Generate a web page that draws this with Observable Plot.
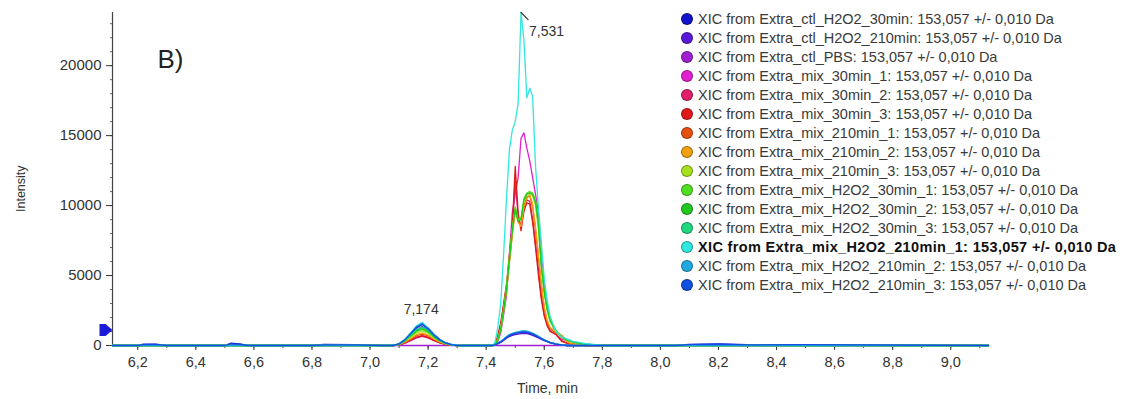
<!DOCTYPE html>
<html><head><meta charset="utf-8">
<script src="https://cdn.jsdelivr.net/npm/d3@7"></script>
<script src="https://cdn.jsdelivr.net/npm/@observablehq/plot@0.6"></script>
<style>
body{margin:0;background:#fff;}
#wrap{position:relative;width:1124px;height:399px;font-family:"Liberation Sans",Arial,sans-serif;}
#legend{position:absolute;left:681px;top:9px;}
.row{height:19.05px;display:flex;align-items:center;font-size:14.5px;color:#3a3a3a;white-space:nowrap;}
.row.bold{font-weight:bold;color:#111;letter-spacing:0.35px;}
.dot{width:12px;height:12px;border-radius:50%;margin-right:5px;box-sizing:border-box;border:1px solid rgba(0,0,0,0.35);}
</style></head><body><div id="wrap"><div id="legend"></div></div>
<script>
// ---------- data ----------
const seriesNames = [
  "Extra_ctl_H2O2_30min", "Extra_ctl_H2O2_210min", "Extra_ctl_PBS",
  "Extra_mix_30min_1", "Extra_mix_30min_2", "Extra_mix_30min_3",
  "Extra_mix_210min_1", "Extra_mix_210min_2", "Extra_mix_210min_3",
  "Extra_mix_H2O2_30min_1", "Extra_mix_H2O2_30min_2", "Extra_mix_H2O2_30min_3",
  "Extra_mix_H2O2_210min_1", "Extra_mix_H2O2_210min_2", "Extra_mix_H2O2_210min_3"
];
const seriesColors = [
  "#1212cc", "#5a18d8", "#a020d0",
  "#e020d0", "#e0206a", "#e01818",
  "#e85010", "#f0a010", "#a8e020",
  "#50e020", "#20c820", "#20d880",
  "#30e8e0", "#20a8e0", "#1050e0"
];
const boldSeries = "Extra_mix_H2O2_210min_1";
const massLabel = "153,057 +/- 0,010 Da";

const edgeTimes = [6.113, 9.13];
const peak1Times = [7.04, 7.06, 7.08, 7.10, 7.12, 7.14, 7.16, 7.18, 7.20, 7.22, 7.24, 7.26, 7.28, 7.30, 7.32];
const peak2Times = [7.40, 7.42, 7.43, 7.44, 7.45, 7.46, 7.47, 7.48, 7.49, 7.50, 7.51, 7.52, 7.53, 7.54,
                    7.55, 7.56, 7.57, 7.58, 7.59, 7.60, 7.61, 7.62, 7.64, 7.66, 7.68, 7.70, 7.74, 7.80];

const peak1Values = [
  [0,0,0,100,350,800,1250,1500,1250,800,450,200,80,0,0],
  [0,0,0,80,300,700,1100,1350,1100,700,380,180,60,0,0],
  [0,0,0,0,0,0,0,0,0,0,0,0,0,0,0],
  [0,0,0,50,150,350,550,650,550,350,200,80,20,0,0],
  [0,0,0,50,180,380,580,700,580,380,200,90,30,0,0],
  [0,0,0,60,200,400,600,680,560,360,190,80,20,0,0],
  [0,0,0,60,220,450,700,820,680,430,230,100,30,0,0],
  [0,0,0,70,250,500,780,900,750,470,250,110,30,0,0],
  [0,0,0,80,300,600,900,1050,880,560,300,130,40,0,0],
  [0,0,0,90,330,680,1000,1150,950,600,320,140,40,0,0],
  [0,0,0,90,350,700,1050,1200,1000,640,340,150,50,0,0],
  [0,0,0,100,380,760,1150,1300,1080,700,370,170,50,0,0],
  [0,0,0,150,450,900,1400,1650,1250,780,420,200,80,0,0],
  [0,0,0,120,420,880,1350,1580,1220,760,400,190,70,0,0],
  [0,0,0,110,400,850,1300,1520,1180,740,390,180,70,0,0]
];
const peak2Values = [
  [0,0,50,150,250,400,580,700,790,850,900,930,950,920,870,800,700,600,480,380,300,200,100,30,0,0,0,0],
  [0,0,40,120,220,360,520,640,720,780,820,850,870,850,800,730,640,540,440,350,270,190,90,30,0,0,0,0],
  [0,0,0,0,0,0,0,0,0,0,0,0,0,0,0,0,0,0,0,0,0,0,0,0,0,0,0,0],
  [0,0,0,300,900,2200,3600,6500,9500,10800,12000,14800,15200,14100,13200,12000,10800,9500,7000,4300,2900,1900,800,450,350,250,100,0],
  [0,0,80,600,1500,2800,4200,6200,8200,11800,9200,8500,9800,10400,10300,9000,7300,5400,3500,2200,1500,1050,800,350,150,100,0,0],
  [0,0,100,700,1600,3000,4400,6500,8500,12800,9500,8200,9600,10200,10100,8800,7000,5000,3300,2100,1400,1000,800,300,150,100,0,0],
  [0,0,60,500,1300,2600,4000,6000,8000,9800,8900,8600,10000,10600,10700,9900,8200,6300,4200,2600,1700,1200,900,700,200,100,0,0],
  [0,0,50,450,1200,2500,3900,5900,7900,9600,8800,8500,9900,10500,10800,10100,8500,6500,4400,2800,1800,1300,950,750,250,100,0,0],
  [0,0,50,400,1150,2500,4100,6200,8300,9800,9000,9000,10300,10800,10950,10700,10000,8300,5600,3700,2500,1700,1000,550,350,220,80,0],
  [0,0,40,400,1200,2600,4200,6300,8400,9900,9000,9100,10500,10900,11000,10900,10400,8900,5800,4000,2700,1900,1100,600,400,250,100,0],
  [0,0,40,380,1100,2400,4000,6100,8200,9700,8900,9000,10400,10800,10900,10800,10200,8600,5600,3800,2600,1800,1050,580,380,240,90,0],
  [0,0,50,160,280,430,620,750,840,900,960,1000,1040,1010,950,870,770,650,520,400,310,220,110,40,0,0,0,0],
  [0,0,200,1300,3000,6500,10500,14000,15400,16000,17300,23800,21800,17700,18400,17800,12800,9800,7200,4800,3200,2100,1000,600,450,300,150,0],
  [0,0,50,180,300,450,640,780,870,930,980,1020,1050,1020,960,880,780,660,530,410,320,230,120,50,0,0,0,0],
  [0,0,40,150,260,410,590,720,810,870,920,950,980,950,900,820,720,610,490,380,290,200,100,40,0,0,0,0]
];
// small baseline noise (series index -> times / values)
const noiseSeries = [0, 14];
const noiseTimes = [6.20, 6.22, 6.26, 6.30, 6.50, 6.52, 6.55, 6.58, 6.80, 6.84, 6.95, 8.05, 8.10, 8.20, 8.30, 8.48];
const noiseValues = [
  [0, 90, 100, 0, 0, 160, 120, 0, 0, 70, 60, 0, 80, 110, 60, 0],
  [0, 60, 80, 0, 0, 120, 90, 0, 0, 50, 50, 0, 60, 90, 40, 60]
];

const peakLabels = [
  {time: 7.176, intensity: 1670, label: "7,174"},
  {time: 7.52, intensity: 23800, label: "7,531"}
];
const markerLevel = [1100];
const xMajorTicks = [6.2, 6.4, 6.6, 6.8, 7.0, 7.2, 7.4, 7.6, 7.8, 8.0, 8.2, 8.4, 8.6, 8.8, 9.0];
const xMinorTicks = [6.2, 6.3, 6.4, 6.5, 6.6, 6.7, 6.8, 6.9, 7.0, 7.1, 7.2, 7.3, 7.4, 7.5, 7.6, 7.7, 7.8, 7.9, 8.0, 8.1, 8.2, 8.3, 8.4, 8.5, 8.6, 8.7, 8.8, 8.9, 9.0, 9.1];
const yMajorTicks = [0, 5000, 10000, 15000, 20000];
const yMinorTicks = d3.range(0, 24000, 1000);
const yDomain = [0, 23800];

// ---------- build table ----------
const data = [];
seriesNames.forEach((name, i) => {
  const pts = [];
  edgeTimes.forEach(t => pts.push({time: t, intensity: 0}));
  peak1Times.forEach((t, j) => pts.push({time: t, intensity: peak1Values[i][j]}));
  peak2Times.forEach((t, j) => pts.push({time: t, intensity: peak2Values[i][j]}));
  const k = noiseSeries.indexOf(i);
  if (k >= 0) noiseTimes.forEach((t, j) => pts.push({time: t, intensity: noiseValues[k][j]}));
  pts.sort((a, b) => a.time - b.time);
  pts.forEach(p => data.push({series: name, time: p.time, intensity: p.intensity}));
});

const font = '"Liberation Sans", Arial, sans-serif';
const comma = d => d.toFixed(1).replace(".", ",");
const arrowSymbol = {draw(ctx) { ctx.moveTo(-6, -6); ctx.lineTo(0, -6); ctx.lineTo(7, 0); ctx.lineTo(0, 6); ctx.lineTo(-6, 6); ctx.closePath(); }};
const leaderShape = {draw(ctx, l) { ctx.moveTo(0, 0); ctx.lineTo(0, -l); }};

const chart = Plot.plot({
  width: 1124, height: 399,
  marginLeft: 112, marginRight: 136, marginTop: 12, marginBottom: 54,
  style: {fontFamily: font, background: "transparent", overflow: "visible"},
  x: {domain: edgeTimes},
  y: {domain: yDomain},
  color: {domain: seriesNames, range: seriesColors},
  marks: [
    Plot.ruleX([edgeTimes[0]], {stroke: "#444", strokeWidth: 1.2}),
    Plot.ruleY([0], {stroke: "#444", strokeWidth: 1.2}),
    Plot.axisX(xMinorTicks, {tickSize: 3, tickFormat: () => "", label: null, stroke: "#444"}),
    Plot.axisX(xMajorTicks, {tickSize: 5, tickPadding: 6, tickFormat: comma, label: null, fontSize: 14.5, color: "#333"}),
    Plot.axisY(yMinorTicks, {tickSize: 2, tickFormat: () => "", label: null, stroke: "#666"}),
    Plot.axisY(yMajorTicks, {tickSize: 6, tickPadding: 5, tickFormat: d => String(d), label: null, fontSize: 15, color: "#333"}),
    Plot.line(data, {x: "time", y: "intensity", z: "series", stroke: "series", strokeWidth: 1.3}),
    Plot.text([peakLabels[0]], {x: "time", y: "intensity", text: "label", dy: -13, fontSize: 14, fill: "#333"}),
    Plot.text([peakLabels[1]], {x: "time", y: "intensity", text: "label", dx: 8, dy: 19, textAnchor: "start", fontSize: 14, fill: "#333"}),
    Plot.vector([peakLabels[1]], {x: "time", y: "intensity", length: 10, rotate: 135, anchor: "start", stroke: "#333", strokeWidth: 1.2, shape: leaderShape}),
    Plot.dot(markerLevel, {y: d => d, frameAnchor: "left", dx: -7, symbol: arrowSymbol, fill: "#1a1ad8", stroke: "none"}),
    Plot.text(["Intensity"], {text: d => d, frameAnchor: "left", dx: -92, dy: 33, rotate: -90, fontSize: 12.5, fill: "#333"}),
    Plot.text(["Time, min"], {text: d => d, frameAnchor: "bottom", dx: -3, dy: 47, fontSize: 14, fill: "#333"}),
    Plot.text(["B)"], {text: d => d, frameAnchor: "top-left", dx: 45, dy: 37, textAnchor: "start", fontSize: 26, fill: "#222"})
  ]
});
const wrap = document.getElementById("wrap");
wrap.insertBefore(chart, wrap.firstChild);

// legend
const legend = document.getElementById("legend");
seriesNames.forEach((name, i) => {
  const row = document.createElement("div");
  row.className = "row" + (name === boldSeries ? " bold" : "");
  const dot = document.createElement("span");
  dot.className = "dot";
  dot.style.background = seriesColors[i];
  const txt = document.createElement("span");
  txt.textContent = `XIC from ${name}: ${massLabel}`;
  row.appendChild(dot); row.appendChild(txt);
  legend.appendChild(row);
});
</script></body></html>
